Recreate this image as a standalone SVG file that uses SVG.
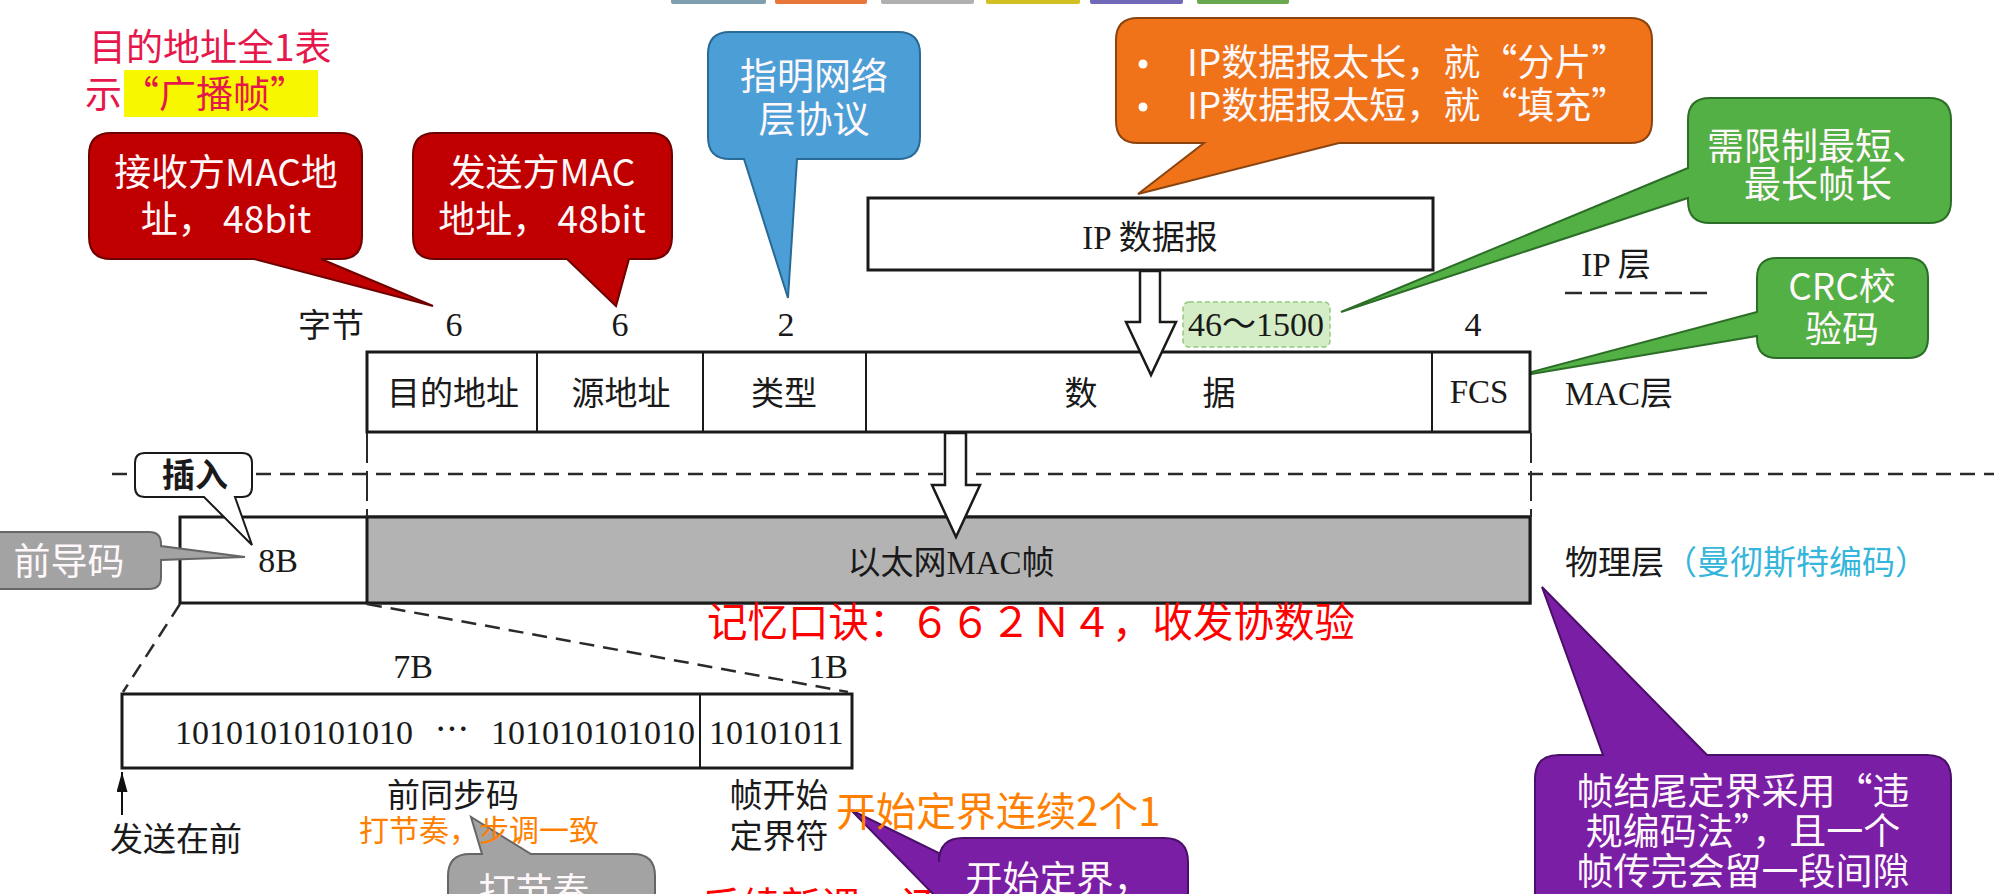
<svg xmlns="http://www.w3.org/2000/svg" width="1994" height="894" viewBox="0 0 1994 894">
<defs>
<marker id="ah" viewBox="0 0 10 10" refX="10" refY="5" markerWidth="20" markerHeight="11" markerUnits="userSpaceOnUse" orient="auto" preserveAspectRatio="none">
<path d="M0,0 L10,5 L0,10 Z" fill="#111"/>
</marker>
</defs>
<style>
.box{fill:#fff;stroke:#1a1a1a;stroke-width:3}
.gbox{fill:#b3b3b3;stroke:#1a1a1a;stroke-width:3}
.div{stroke:#1a1a1a;stroke-width:2}
.lbl{font-family:"Liberation Serif","Noto Sans CJK SC",serif;font-size:33px;fill:#1a1a1a;text-anchor:middle}
.num{font-family:"Liberation Serif","Noto Sans CJK SC",serif;font-size:34px;fill:#1a1a1a}
.ct{font-family:"Noto Sans CJK SC",sans-serif;font-size:37px;fill:#fff8fa;text-anchor:middle}
.st{text-anchor:start}
.sans{font-family:"Noto Sans CJK SC",sans-serif}
.dash{stroke:#2a2a2a;stroke-width:2.5;stroke-dasharray:15 9;fill:none}
.vdash{stroke:#2a2a2a;stroke-width:2;stroke-dasharray:30 8;fill:none}
.harrow{fill:#fff;stroke:#1a1a1a;stroke-width:2.5}
.red{fill:#c00000;stroke:#6e0000;stroke-width:2}
.blue{fill:#4c9fd6;stroke:#2a6a96;stroke-width:2}
.orange{fill:#f07219;stroke:#8a4410;stroke-width:2}
.green{fill:#53b044;stroke:#2c6e28;stroke-width:2}
.purple{fill:#7a1ea6;stroke:#4a0f68;stroke-width:2}
.gray{fill:#a3a3a3;stroke:#666;stroke-width:2}
</style>
<rect width="1994" height="894" fill="#fff"/>

<g id="top-strip">
<rect x="671" y="-3" width="95" height="7" rx="2" fill="#7f9fae"/>
<rect x="775" y="-3" width="92" height="7" rx="2" fill="#e8763a"/>
<rect x="881" y="-3" width="93" height="7" rx="2" fill="#b0b0b0"/>
<rect x="986" y="-3" width="94" height="7" rx="2" fill="#d4bf22"/>
<rect x="1090" y="-3" width="93" height="7" rx="2" fill="#7268b8"/>
<rect x="1197" y="-3" width="92" height="7" rx="2" fill="#6aa84f"/>
</g>

<g id="broadcast-note">
<rect x="124" y="70" width="194" height="47" fill="#f7f700"/>
<text class="sans" x="89" y="61" font-size="37" fill="#e6174b">目的地址全1表</text>
<text class="sans" x="85" y="108" font-size="37" fill="#e6174b">示“广播帧”</text>
</g>

<g id="callout-dst">
<path class="red" d="M111,133 H340 Q362,133 362,155 V237 Q362,259 340,259 H321 L433,306 L254,259 H111 Q89,259 89,237 V155 Q89,133 111,133 Z"/>
<text class="ct" x="226" y="186">接收方MAC地</text>
<text class="ct" x="226" y="233">址， 48bit</text>
</g>

<g id="callout-src">
<path class="red" d="M435,133 H650 Q672,133 672,155 V237 Q672,259 650,259 H629 L616,306 L567,259 H435 Q413,259 413,237 V155 Q413,133 435,133 Z"/>
<text class="ct" x="542" y="186">发送方MAC</text>
<text class="ct" x="542" y="233">地址， 48bit</text>
</g>

<g id="callout-type">
<path class="blue" d="M730,32 H898 Q920,32 920,54 V137 Q920,159 898,159 H797 L788,298 L744,159 H730 Q708,159 708,137 V54 Q708,32 730,32 Z"/>
<text class="ct" x="814" y="90">指明网络</text>
<text class="ct" x="814" y="133">层协议</text>
</g>

<g id="callout-ip">
<path class="orange" d="M1138,18 H1630 Q1652,18 1652,40 V121 Q1652,143 1630,143 H1339 L1138,194 L1204,143 H1138 Q1116,143 1116,121 V40 Q1116,18 1138,18 Z"/>
<circle cx="1143" cy="64" r="4.5" fill="#fff"/>
<circle cx="1143" cy="107" r="4.5" fill="#fff"/>
<text class="ct st" x="1187" y="76">IP数据报太长，就“分片”</text>
<text class="ct st" x="1187" y="119">IP数据报太短，就“填充”</text>
</g>

<g id="callout-len">
<path class="green" d="M1710,98 H1929 Q1951,98 1951,120 V201 Q1951,223 1929,223 H1710 Q1688,223 1688,201 V198 L1341,312 L1688,168 V120 Q1688,98 1710,98 Z"/>
<text class="ct" x="1818" y="160">需限制最短、</text>
<text class="ct" x="1818" y="198">最长帧长</text>
</g>

<g id="callout-crc">
<path class="green" d="M1777,258 H1908 Q1928,258 1928,278 V338 Q1928,358 1908,358 H1777 Q1757,358 1757,338 V336 L1513,377 L1757,312 V278 Q1757,258 1777,258 Z"/>
<text class="ct" x="1842" y="300">CRC校</text>
<text class="ct" x="1842" y="343">验码</text>
</g>

<g id="ip-datagram">
<rect class="box" x="868" y="198" width="565" height="72"/>
<text class="lbl" x="1150" y="249" font-size="34">IP 数据报</text>
</g>

<g id="ip-layer">
<text class="lbl" x="1616" y="276">IP 层</text>
<line x1="1565" y1="293" x2="1710" y2="293" stroke="#2a2a2a" stroke-width="2.5" stroke-dasharray="17 8"/>
</g>

<g id="byte-row">
<text class="lbl" x="331" y="337">字节</text>
<text class="num" x="454" y="336" text-anchor="middle">6</text>
<text class="num" x="620" y="336" text-anchor="middle">6</text>
<text class="num" x="786" y="336" text-anchor="middle">2</text>
<text class="num" x="1473" y="336" text-anchor="middle">4</text>
</g>

<g id="len-label">
<rect x="1183" y="302" width="147" height="45" rx="6" fill="#d5edc6" stroke="#95c880" stroke-width="1.5" stroke-dasharray="5 3"/>
<text class="num" x="1256" y="336" text-anchor="middle" font-size="32" fill="#3b4a3b">46～1500</text>
</g>

<g id="mac-frame">
<rect class="box" x="367" y="352" width="1163" height="80"/>
<line class="div" x1="537" y1="352" x2="537" y2="432"/>
<line class="div" x1="703" y1="352" x2="703" y2="432"/>
<line class="div" x1="866" y1="352" x2="866" y2="432"/>
<line class="div" x1="1432" y1="352" x2="1432" y2="432"/>
<text class="lbl" x="453" y="405">目的地址</text>
<text class="lbl" x="621" y="405">源地址</text>
<text class="lbl" x="784" y="405">类型</text>
<text class="lbl" x="1081" y="405">数</text>
<text class="lbl" x="1219" y="405">据</text>
<text class="lbl" x="1479" y="403">FCS</text>
<text class="lbl" x="1619" y="405">MAC层</text>
</g>

<g id="physical-frame">
<rect class="box" x="180" y="517" width="1350" height="86"/>
<rect class="gbox" x="367" y="517" width="1163" height="86"/>
<text class="num" x="278" y="572" text-anchor="middle">8B</text>
<text class="lbl" x="951" y="574">以太网MAC帧</text>
<text class="lbl st" x="1565" y="574">物理层<tspan fill="#35b6da">（曼彻斯特编码）</tspan></text>
</g>

<g id="preamble">
<rect class="box" x="122" y="694" width="730" height="74"/>
<line class="div" x1="700" y1="694" x2="700" y2="768"/>
<text class="num" x="175" y="744">10101010101010</text>
<text class="num" x="452" y="742" text-anchor="middle">⋯</text>
<text class="num" x="491" y="744">101010101010</text>
<text class="num" x="709" y="744">10101011</text>
<text class="num" x="413" y="678" text-anchor="middle">7B</text>
<text class="num" x="828" y="678" text-anchor="middle">1B</text>
<text class="lbl" x="453" y="807">前同步码</text>
<text class="lbl" x="779" y="807">帧开始</text>
<text class="lbl" x="779" y="848">定界符</text>
<text class="lbl" x="176" y="851">发送在前</text>
</g>

<g id="connectors">
<line class="dash" x1="112" y1="474" x2="1994" y2="474"/>
<line class="vdash" x1="367" y1="433" x2="367" y2="517"/>
<line class="vdash" x1="1531" y1="433" x2="1531" y2="517"/>
<line class="dash" x1="180" y1="604" x2="123" y2="692"/>
<line class="dash" x1="367" y1="604" x2="848" y2="692"/>
<polygon class="harrow" points="1140,271 1160,271 1160,322 1176,322 1151,375 1126,322 1140,322"/>
<polygon class="harrow" points="945,433 966,433 966,485 980,485 956,537 932,485 945,485"/>
<line x1="122" y1="815" x2="122" y2="772" stroke="#111" stroke-width="2" marker-end="url(#ah)"/>
</g>

<g id="callout-insert">
<path d="M145,453 H242 Q252,453 252,463 V487 Q252,497 242,497 H235 L252,545 L204,497 H145 Q135,497 135,487 V463 Q135,453 145,453 Z" fill="#fff" stroke="#1a1a1a" stroke-width="2"/>
<text class="lbl" x="195" y="487" font-weight="bold">插入</text>
</g>

<g id="callout-preamble">
<path class="gray" d="M-20,532 H149 Q161,532 161,544 V546 L245,557 L161,560 V577 Q161,589 149,589 H-20 Z"/>
<text class="ct" x="69" y="575" fill="#e6e6e6">前导码</text>
</g>

<g id="mnemonic">
<text class="sans" x="707" y="637" font-size="40.5" fill="#ff0000">记忆口诀：６６２Ｎ４，收发协数验</text>
</g>

<g id="bottom-red">
<text class="sans" x="701" y="921" font-size="40" fill="#ff0000">后续新课，还加做练习</text>
</g>

<g id="callout-rhythm">
<path class="gray" d="M470,854 H482 L471,817 L531,854 H633 Q655,854 655,876 V920 H448 V876 Q448,854 470,854 Z"/>
<text class="ct" x="534" y="905" font-size="38" fill="#e0e0e0">打节奏</text>
<text class="sans" x="359" y="841" font-size="30" fill="#ff7f00">打节奏，步调一致</text>
</g>

<g id="callout-sfd">
<path class="purple" d="M963,838 H1164 Q1188,838 1188,862 V910 H939 V900 L851,810 L939,853 V862 Q939,838 963,838 Z"/>
<text class="ct" x="1058" y="893">开始定界，</text>
<text class="sans" x="836" y="826" font-size="40" fill="#ff7f00">开始定界连续2个1</text>
</g>

<g id="callout-end">
<path class="purple" d="M1559,755 H1603 L1542,587 L1707,755 H1927 Q1951,755 1951,779 V925 H1535 V779 Q1535,755 1559,755 Z"/>
<text class="ct" x="1743" y="805" font-size="38">帧结尾定界采用“违</text>
<text class="ct" x="1743" y="845" font-size="38">规编码法”，且一个</text>
<text class="ct" x="1743" y="885" font-size="38">帧传完会留一段间隙</text>
</g>
</svg>
